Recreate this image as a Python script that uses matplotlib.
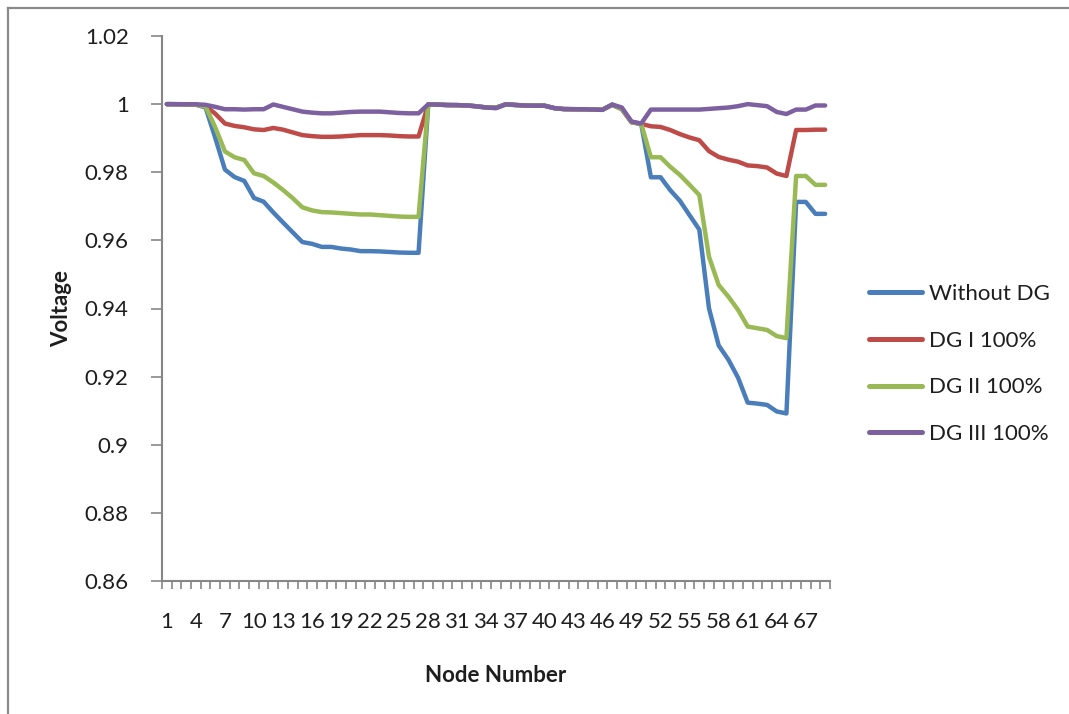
import numpy as np
import matplotlib
matplotlib.use("Agg")
import matplotlib.pyplot as plt
import matplotlib.lines as lines

plt.rcParams['font.family'] = ['Lato', 'DejaVu Sans']

# node voltages (p.u.), nodes 1..69
nodes = list(range(1, 70))

without_dg = [
    1.0000, 0.99997, 0.99993, 0.99984, 0.99902, 0.99009, 0.98079, 0.97858, 0.97745, 0.97245,
    0.97135, 0.96819, 0.96526, 0.96237, 0.95951, 0.95898, 0.95809, 0.95808, 0.95760, 0.95732,
    0.95684, 0.95683, 0.95676, 0.95660, 0.95643, 0.95636, 0.95634,
    0.99993, 0.99985, 0.99973, 0.99971, 0.99961, 0.99935, 0.99901, 0.99895,
    0.99992, 0.99975, 0.99959, 0.99954, 0.99954, 0.99884, 0.99855, 0.99851, 0.99850, 0.99841, 0.99840,
    0.99979, 0.99854, 0.99470, 0.99415,
    0.97853, 0.97853, 0.97474, 0.97160, 0.96736, 0.96317, 0.94004, 0.92916, 0.92500, 0.91971,
    0.91236, 0.91208, 0.91170, 0.90977, 0.90919,
    0.97129, 0.97129, 0.96779, 0.96779,
]

dg1 = [
    1.0000, 0.99997, 0.99993, 0.99984, 0.9994, 0.9972, 0.9943, 0.9936, 0.9932, 0.9926,
    0.9924, 0.9930, 0.9925, 0.9917, 0.9909, 0.9906, 0.9904, 0.9904, 0.9905, 0.9907,
    0.9909, 0.9909, 0.9909, 0.9908, 0.9906, 0.9905, 0.9905,
    0.99993, 0.99985, 0.99973, 0.99971, 0.99961, 0.99935, 0.99901, 0.99895,
    0.99992, 0.99975, 0.99959, 0.99954, 0.99954, 0.99884, 0.99855, 0.99851, 0.99850, 0.99841, 0.99840,
    0.99979, 0.99854, 0.99470, 0.99420,
    0.9935, 0.9933, 0.9924, 0.9912, 0.9902, 0.9894, 0.9862, 0.9845, 0.9837, 0.9831,
    0.9820, 0.9818, 0.9814, 0.9796, 0.9789,
    0.9924, 0.9924, 0.9925, 0.9925,
]

dg2 = [
    1.0000, 0.99997, 0.99993, 0.99984, 0.9993, 0.9932, 0.9861, 0.9844, 0.9836, 0.9797,
    0.9789, 0.9770, 0.9748, 0.9724, 0.9697, 0.9688, 0.9683, 0.9682, 0.9680, 0.9678,
    0.9676, 0.9676, 0.9674, 0.9672, 0.9670, 0.9669, 0.9669,
    0.99993, 0.99985, 0.99973, 0.99971, 0.99961, 0.99935, 0.99901, 0.99895,
    0.99992, 0.99975, 0.99959, 0.99954, 0.99954, 0.99884, 0.99855, 0.99851, 0.99850, 0.99841, 0.99840,
    0.99979, 0.99854, 0.99470, 0.99420,
    0.9844, 0.9844, 0.9816, 0.9792, 0.9763, 0.9733, 0.9552, 0.9469, 0.9435, 0.9396,
    0.9347, 0.9342, 0.9337, 0.9319, 0.9313,
    0.9789, 0.9789, 0.9763, 0.9763,
]

dg3 = [
    1.0000, 1.0000, 0.99998, 0.99995, 0.9998, 0.9992, 0.9985, 0.9985, 0.9984, 0.9985,
    0.9985, 0.9999, 0.9992, 0.9985, 0.9978, 0.9975, 0.9973, 0.9973, 0.9975, 0.9977,
    0.9978, 0.9978, 0.9978, 0.9976, 0.9974, 0.9973, 0.9973,
    0.99993, 0.99985, 0.99973, 0.99971, 0.99961, 0.99935, 0.99901, 0.99880,
    0.99995, 0.99975, 0.99959, 0.99954, 0.99954, 0.99884, 0.99855, 0.99851, 0.99850, 0.99841, 0.99830,
    0.99990, 0.99900, 0.99490, 0.99430,
    0.9984, 0.9984, 0.9984, 0.9984, 0.9984, 0.9984, 0.9986, 0.9988, 0.9990, 0.9994,
    1.0000, 0.9997, 0.9994, 0.9977, 0.9971,
    0.9984, 0.9984, 0.9996, 0.9996,
]

series = [
    ("Without DG", without_dg, "#4a7ebb"),
    ("DG I 100%", dg1, "#be4b48"),
    ("DG II 100%", dg2, "#98b954"),
    ("DG III 100%", dg3, "#7d60a0"),
]

x_labels = nodes[::3]
y_ticks = [0.86, 0.88, 0.9, 0.92, 0.94, 0.96, 0.98, 1.0, 1.02]
y_labels = ["0.86", "0.88", "0.9", "0.92", "0.94", "0.96", "0.98", "1", "1.02"]

axis_col = "#868686"
text_col = "#1e1e1e"
W, H = 1069.0, 714.0

fig = plt.figure(figsize=(10.69, 7.14), dpi=100)
# plot area: x 162..830 px, y 36..581 px
ax = fig.add_axes([162 / W, 1 - 581 / H, 668 / W, 545 / H])

for name, vals, col in series:
    ax.plot(nodes, vals, color=col, lw=3.2, label=name,
            solid_joinstyle="round", solid_capstyle="round")

ax.set_xlim(0.5, 69.5)
ax.set_ylim(0.86, 1.02)

ax.set_yticks(y_ticks)
ax.set_yticklabels(y_labels)
ax.set_xticks(x_labels)
ax.set_xticklabels([str(n) for n in x_labels])
ax.set_xticks(np.arange(0.5, 70.0, 1.0), minor=True)

ax.tick_params(axis="x", which="major", length=0, pad=22,
               labelsize=16, labelcolor=text_col)
ax.tick_params(axis="x", which="minor", length=6, width=1.2,
               color=axis_col, direction="out")
ax.tick_params(axis="y", length=8, width=1.2, color=axis_col,
               direction="out", pad=16, labelsize=16, labelcolor=text_col)

for s in ("top", "right"):
    ax.spines[s].set_visible(False)
for s in ("left", "bottom"):
    ax.spines[s].set_color(axis_col)
    ax.spines[s].set_linewidth(1.5)

ax.set_xlabel("Node Number", fontsize=16, fontweight="bold",
              color=text_col, labelpad=24)
ax.set_ylabel("Voltage", fontsize=16, fontweight="bold",
              color=text_col, labelpad=9)

leg = fig.legend(loc="center left", bbox_to_anchor=(869 / W, 1 - 364 / H),
                 frameon=False, fontsize=16, handlelength=2.4,
                 handletextpad=0.3, labelspacing=1.2,
                 borderpad=0, borderaxespad=0)
for t in leg.get_texts():
    t.set_color(text_col)
for h in leg.get_lines():
    h.set_linewidth(3.6)

# chart border, only top and left edges are in the crop
fig.add_artist(lines.Line2D([8 / W, 1.0], [1 - 8 / H, 1 - 8 / H],
                            transform=fig.transFigure, color="#8a8a8a", lw=1.6))
fig.add_artist(lines.Line2D([8 / W, 8 / W], [1 - 8 / H, 0.0],
                            transform=fig.transFigure, color="#8a8a8a", lw=1.6))

fig.savefig("out.png", dpi=100, facecolor="white")
